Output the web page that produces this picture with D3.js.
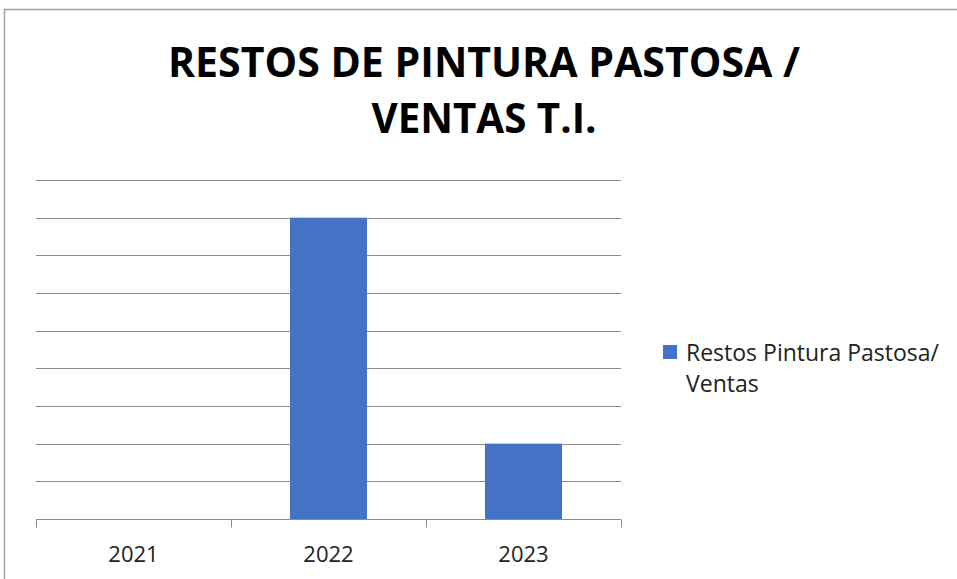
<!DOCTYPE html>
<html>
<head>
<meta charset="utf-8">
<script src="https://cdn.jsdelivr.net/npm/d3@7"></script>
<style>
  body { margin: 0; background: #fff; }
  text { font-family: "Open Sans", "Liberation Sans", sans-serif; }
</style>
</head>
<body>
<div id="chart"></div>
<script>
const years = ["2021", "2022", "2023"];
const values = [0, 8, 2];
const seriesName = ["Restos Pintura Pastosa/", "Ventas"];
const titleLines = ["RESTOS DE PINTURA PASTOSA /", "VENTAS T.I."];

const width = 957, height = 579;
const svg = d3.select("#chart").append("svg")
  .attr("width", width)
  .attr("height", height);

// chart frame
svg.append("path")
  .attr("d", "M4.5,579 L4.5,9.5 L957,9.5")
  .attr("fill", "none")
  .attr("stroke", "#a0a0a0")
  .attr("stroke-width", 1.5);

// title
const titleWidths = [632, 225];
svg.selectAll("text.title")
  .data(titleLines)
  .enter()
  .append("text")
  .attr("class", "title")
  .attr("x", 484)
  .attr("y", (d, i) => 77 + i * 56)
  .attr("text-anchor", "middle")
  .attr("textLength", (d, i) => titleWidths[i])
  .attr("lengthAdjust", "spacingAndGlyphs")
  .style("font-size", "42px")
  .style("font-weight", "bold")
  .attr("fill", "#000")
  .text(d => d);

// scales
const x = d3.scaleBand().domain(years).range([36, 621]).paddingInner(0.605).paddingOuter(0.3025);
const y = d3.scaleLinear().domain([0, 9]).range([519, 180]);

// gridlines
svg.append("g")
  .selectAll("line")
  .data(d3.range(1, 10))
  .enter()
  .append("line")
  .attr("x1", 36)
  .attr("x2", 621)
  .attr("y1", d => Math.round(y(d)) + 0.5)
  .attr("y2", d => Math.round(y(d)) + 0.5)
  .attr("stroke", "#8c8c8c")
  .attr("stroke-width", 1);

// bars
svg.append("g")
  .selectAll("rect")
  .data(values)
  .enter()
  .append("rect")
  .attr("x", (d, i) => x(years[i]))
  .attr("width", x.bandwidth())
  .attr("y", d => y(d))
  .attr("height", d => y(0) - y(d))
  .attr("fill", "#4472c4");

// x axis
const xAxis = svg.append("g")
  .attr("transform", "translate(0,519.5)");
xAxis.append("line")
  .attr("x1", 36).attr("x2", 621)
  .attr("stroke", "#8c8c8c");
const edges = [36].concat(years.map(d => x(d) + x.bandwidth() + x.step() * x.paddingInner() / 2));
edges[edges.length - 1] = 621;
xAxis.selectAll("line.tick")
  .data(edges)
  .enter()
  .append("line")
  .attr("class", "tick")
  .attr("x1", d => Math.round(d) + 0.5)
  .attr("x2", d => Math.round(d) + 0.5)
  .attr("y1", 0).attr("y2", 8)
  .attr("stroke", "#8c8c8c");
xAxis.selectAll("text")
  .data(years)
  .enter()
  .append("text")
  .attr("x", d => x(d) + x.bandwidth() / 2)
  .attr("y", 42)
  .attr("text-anchor", "middle")
  .style("font-size", "22px")
  .attr("fill", "#222")
  .text(d => d);

// legend
const legend = svg.append("g").attr("transform", "translate(663,345)");
legend.append("rect")
  .attr("width", 14).attr("height", 14)
  .attr("fill", "#4472c4");
legend.selectAll("text")
  .data(seriesName)
  .enter()
  .append("text")
  .attr("x", 23)
  .attr("y", (d, i) => 16 + i * 31)
  .style("font-size", "23px")
  .attr("fill", "#222")
  .text(d => d);
</script>
</body>
</html>
